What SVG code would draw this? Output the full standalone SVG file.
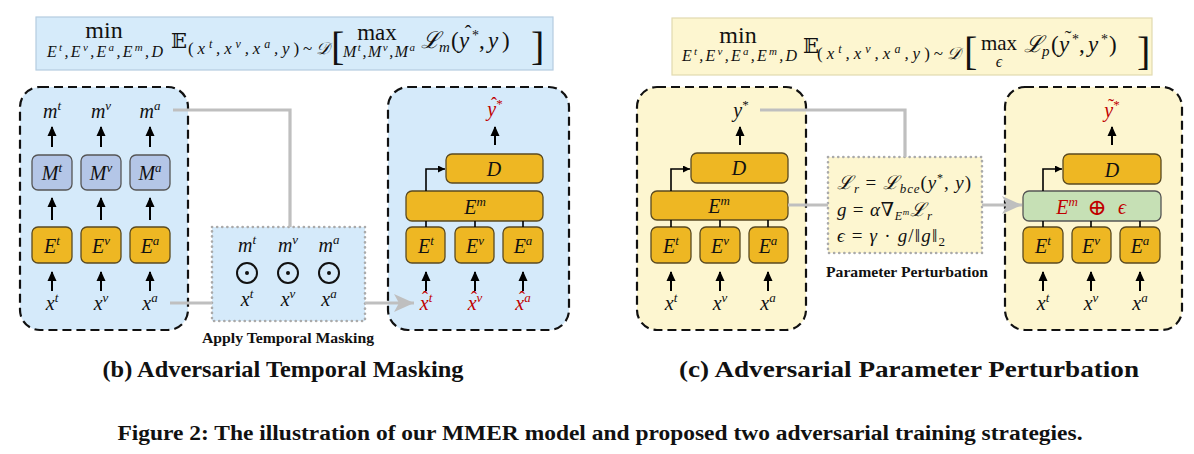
<svg xmlns="http://www.w3.org/2000/svg" width="1194" height="454" viewBox="0 0 1194 454">
<defs>
<marker id="ah" markerUnits="userSpaceOnUse" markerWidth="10" markerHeight="10" refX="9" refY="5" orient="auto"><path d="M0,0.5 L10,5 L0,9.5 z" fill="#000"/></marker>
<marker id="ahs" markerUnits="userSpaceOnUse" markerWidth="7" markerHeight="7" refX="7" refY="3.5" orient="auto"><path d="M0,0 L7,3.5 L0,7 z" fill="#000"/></marker>
<marker id="gh" markerUnits="userSpaceOnUse" markerWidth="20" markerHeight="18" refX="20" refY="9" orient="auto"><path d="M0,0 L20,9 L0,18 L5,9 z" fill="#bfbfbf"/></marker>
</defs>
<style>
.bg{fill:#ffffff}
.fb{fill:#d6ebfa;stroke:#b4cce0;stroke-width:1.2}
.fy{fill:#fdf6d0;stroke:#e2dab0;stroke-width:1.2}
.pb{fill:#d5eafa;stroke:#111;stroke-width:2.2;stroke-dasharray:9 5}
.py{fill:#fdf6d0;stroke:#111;stroke-width:2.2;stroke-dasharray:9 5}
.db{fill:#d5eafa;stroke:#aaaaaa;stroke-width:2.6;stroke-dasharray:0.1 5;stroke-linecap:round}
.dy{fill:#fdf6d0;stroke:#aaaaaa;stroke-width:2.6;stroke-dasharray:0.1 5;stroke-linecap:round}
.ob{fill:#eeb723;stroke:#5a4a20;stroke-width:1.3}
.mb{fill:#b4c6e7;stroke:#555;stroke-width:1.3}
.gb{fill:#c6e0b5;stroke:#555;stroke-width:1.3}
.ar{stroke:#000;stroke-width:2;fill:none;marker-end:url(#ah)}
.ln{stroke:#000;stroke-width:1.6;fill:none}
.el{stroke:#000;stroke-width:1.6;fill:none;marker-end:url(#ahs)}
.gr{stroke:#bfbfbf;stroke-width:3.2;fill:none}
.ga{stroke:#bfbfbf;stroke-width:3.2;fill:none;marker-end:url(#gh)}
text{font-family:"Times New Roman","Liberation Serif",Tinos,"DejaVu Serif",serif;fill:#111}
.mi{font-style:italic;font-size:20px}
.mu{font-size:20px}
.red{fill:#c00000}
.s{font-size:13px}
.hat{font-size:18px;font-style:normal}
.lab{font-weight:bold;font-size:14px}
.cap{font-weight:bold;font-size:23px}
.fig{font-weight:bold;font-size:20px}
.dm{font-family:"DejaVu Serif","DejaVu Sans",serif}
</style>
<rect class="bg" x="0" y="0" width="1194" height="454"/>

<!-- formula boxes -->
<g id="formula-b">
<rect class="fb" x="36" y="17" width="517" height="53"/>
<text class="mu" x="104" y="38" text-anchor="middle" style="font-size:24px">min</text>
<text class="mi" x="47" y="57" style="font-size:16px" textLength="116">E<tspan dy="-6" font-size="11">t</tspan><tspan dy="6">,E</tspan><tspan dy="-6" font-size="11">v</tspan><tspan dy="6">,E</tspan><tspan dy="-6" font-size="11">a</tspan><tspan dy="6">,E</tspan><tspan dy="-6" font-size="11">m</tspan><tspan dy="6">,D</tspan></text>
<text class="dm" x="171" y="48" style="font-size:21px">𝔼</text>
<text class="mi" x="188" y="54" style="font-size:17px" textLength="142"><tspan font-style="normal">(</tspan>x<tspan dy="-6" font-size="12">t</tspan><tspan dy="6">,x</tspan><tspan dy="-6" font-size="12">v</tspan><tspan dy="6">,x</tspan><tspan dy="-6" font-size="12">a</tspan><tspan dy="6">,y</tspan><tspan font-style="normal">)~</tspan>𝒟</text>
<text class="mu" x="331" y="60" style="font-size:40px">[</text>
<text class="mu" x="377" y="40" text-anchor="middle" style="font-size:23px">max</text>
<text class="mi" x="343" y="57" style="font-size:16px" textLength="72">M<tspan dy="-6" font-size="11">t</tspan><tspan dy="6">,M</tspan><tspan dy="-6" font-size="11">v</tspan><tspan dy="6">,M</tspan><tspan dy="-6" font-size="11">a</tspan></text>
<text class="mi" x="421" y="48" style="font-size:23px">ℒ</text>
<text class="mi" x="439" y="52" style="font-size:15px">m</text>
<text class="mu" x="451" y="48" style="font-size:23px">(</text>
<text class="mi" x="459" y="48" style="font-size:23px">y</text>
<text class="hat" x="468" y="40" text-anchor="middle" style="font-size:20px">ˆ</text>
<text class="mu" x="472" y="40" style="font-size:14px">*</text>
<text class="mu" x="479" y="48" style="font-size:23px">,</text>
<text class="mi" x="488" y="48" style="font-size:23px">y</text>
<text class="mu" x="502" y="48" style="font-size:23px">)</text>
<text class="mu" x="531" y="60" style="font-size:40px">]</text>
</g>

<g id="formula-c">
<rect class="fy" x="672" y="18" width="480" height="57"/>
<text class="mu" x="738" y="43" text-anchor="middle" style="font-size:24px">min</text>
<text class="mi" x="682" y="61" style="font-size:16px" textLength="115">E<tspan dy="-6" font-size="11">t</tspan><tspan dy="6">,E</tspan><tspan dy="-6" font-size="11">v</tspan><tspan dy="6">,E</tspan><tspan dy="-6" font-size="11">a</tspan><tspan dy="6">,E</tspan><tspan dy="-6" font-size="11">m</tspan><tspan dy="6">,D</tspan></text>
<text class="dm" x="803" y="53" style="font-size:21px">𝔼</text>
<text class="mi" x="817" y="59" style="font-size:17px" textLength="144"><tspan font-style="normal">(</tspan>x<tspan dy="-6" font-size="12">t</tspan><tspan dy="6">,x</tspan><tspan dy="-6" font-size="12">v</tspan><tspan dy="6">,x</tspan><tspan dy="-6" font-size="12">a</tspan><tspan dy="6">,y</tspan><tspan font-style="normal">)~</tspan>𝒟</text>
<text class="mu" x="964" y="65" style="font-size:40px">[</text>
<text class="mu" x="999" y="50" text-anchor="middle" style="font-size:21px">max</text>
<text class="mi" x="999" y="67" text-anchor="middle" style="font-size:16px">ϵ</text>
<text class="mi" x="1024" y="52" style="font-size:23px">ℒ</text>
<text class="mi" x="1042" y="56" style="font-size:15px">p</text>
<text class="mu" x="1051" y="52" style="font-size:23px">(</text>
<text class="mi" x="1059" y="52" style="font-size:23px">y</text>
<text class="hat" x="1068" y="45" text-anchor="middle" style="font-size:20px">˜</text>
<text class="mu" x="1072" y="44" style="font-size:14px">*</text>
<text class="mu" x="1079" y="52" style="font-size:23px">,</text>
<text class="mi" x="1088" y="52" style="font-size:23px">y</text>
<text class="mu" x="1101" y="44" style="font-size:14px">*</text>
<text class="mu" x="1109" y="52" style="font-size:23px">)</text>
<text class="mu" x="1137" y="65" style="font-size:40px">]</text>
</g>

<!-- panel b left -->
<g id="panel-b-mask-gen">
<rect class="pb" x="20" y="87" width="168" height="243" rx="20"/>
<text class="mi" x="52" y="118" text-anchor="middle">m<tspan dy="-8" class="s">t</tspan></text>
<text class="mi" x="101" y="118" text-anchor="middle">m<tspan dy="-8" class="s">v</tspan></text>
<text class="mi" x="150" y="118" text-anchor="middle">m<tspan dy="-8" class="s">a</tspan></text>
<g id="Mt"><rect class="mb" x="32" y="155" width="40" height="35" rx="6"/><text class="mi" x="52" y="180" text-anchor="middle">M<tspan dy="-8" class="s">t</tspan></text></g>
<g id="Mv"><rect class="mb" x="81" y="155" width="40" height="35" rx="6"/><text class="mi" x="101" y="180" text-anchor="middle">M<tspan dy="-8" class="s">v</tspan></text></g>
<g id="Ma"><rect class="mb" x="130" y="155" width="40" height="35" rx="6"/><text class="mi" x="150" y="180" text-anchor="middle">M<tspan dy="-8" class="s">a</tspan></text></g>
<g id="Et-b1"><rect class="ob" x="32" y="227" width="40" height="36" rx="6"/><text class="mi" x="52" y="253" text-anchor="middle">E<tspan dy="-8" class="s">t</tspan></text></g>
<g id="Ev-b1"><rect class="ob" x="81" y="227" width="40" height="36" rx="6"/><text class="mi" x="101" y="253" text-anchor="middle">E<tspan dy="-8" class="s">v</tspan></text></g>
<g id="Ea-b1"><rect class="ob" x="130" y="227" width="40" height="36" rx="6"/><text class="mi" x="150" y="253" text-anchor="middle">E<tspan dy="-8" class="s">a</tspan></text></g>
<text class="mi" x="52" y="310" text-anchor="middle">x<tspan dy="-8" class="s">t</tspan></text>
<text class="mi" x="101" y="310" text-anchor="middle">x<tspan dy="-8" class="s">v</tspan></text>
<text class="mi" x="150" y="310" text-anchor="middle">x<tspan dy="-8" class="s">a</tspan></text>
</g>

<!-- mask apply box -->
<g id="apply-masking">
<rect class="db" x="212" y="227" width="153" height="94"/>
<text class="mi" x="247" y="252" text-anchor="middle">m<tspan dy="-8" class="s">t</tspan></text>
<text class="mi" x="288" y="252" text-anchor="middle">m<tspan dy="-8" class="s">v</tspan></text>
<text class="mi" x="329" y="252" text-anchor="middle">m<tspan dy="-8" class="s">a</tspan></text>
<circle cx="247" cy="273" r="10" fill="none" stroke="#111" stroke-width="2"/><circle cx="247" cy="273" r="2" fill="#111"/>
<circle cx="288" cy="273" r="10" fill="none" stroke="#111" stroke-width="2"/><circle cx="288" cy="273" r="2" fill="#111"/>
<circle cx="329" cy="273" r="10" fill="none" stroke="#111" stroke-width="2"/><circle cx="329" cy="273" r="2" fill="#111"/>
<text class="mi" x="247" y="306" text-anchor="middle">x<tspan dy="-8" class="s">t</tspan></text>
<text class="mi" x="288" y="306" text-anchor="middle">x<tspan dy="-8" class="s">v</tspan></text>
<text class="mi" x="329" y="306" text-anchor="middle">x<tspan dy="-8" class="s">a</tspan></text>
<text class="lab" x="288" y="343" text-anchor="middle" textLength="172" lengthAdjust="spacingAndGlyphs">Apply Temporal Masking</text>
</g>

<!-- panel b right -->
<g id="panel-b-model">
<rect class="pb" x="388" y="87" width="181" height="243" rx="20"/>
<text class="mi red" x="495" y="116" text-anchor="middle">y<tspan dy="-8" font-size="13" font-style="normal">*</tspan></text>
<text class="hat red" x="494" y="110" text-anchor="middle">ˆ</text>
<g id="D-b"><rect class="ob" x="446" y="154" width="97" height="29" rx="6"/><text class="mi" x="494" y="176" text-anchor="middle">D</text></g>
<g id="Em-b"><rect class="ob" x="406" y="191" width="137" height="30" rx="6"/><text class="mi" x="475" y="214" text-anchor="middle">E<tspan dy="-8" class="s">m</tspan></text></g>
<g id="Et-b2"><rect class="ob" x="406" y="227" width="39" height="36" rx="6"/><text class="mi" x="426" y="253" text-anchor="middle">E<tspan dy="-8" class="s">t</tspan></text></g>
<g id="Ev-b2"><rect class="ob" x="455" y="227" width="39" height="36" rx="6"/><text class="mi" x="475" y="253" text-anchor="middle">E<tspan dy="-8" class="s">v</tspan></text></g>
<g id="Ea-b2"><rect class="ob" x="503" y="227" width="40" height="36" rx="6"/><text class="mi" x="523" y="253" text-anchor="middle">E<tspan dy="-8" class="s">a</tspan></text></g>
<text class="mi red" x="426" y="310" text-anchor="middle">x<tspan dy="-8" class="s">t</tspan></text>
<text class="mi red" x="475" y="310" text-anchor="middle">x<tspan dy="-8" class="s">v</tspan></text>
<text class="mi red" x="523" y="310" text-anchor="middle">x<tspan dy="-8" class="s">a</tspan></text>
<text class="hat red" x="425" y="304" text-anchor="middle">ˆ</text>
<text class="hat red" x="474" y="304" text-anchor="middle">ˆ</text>
<text class="hat red" x="522" y="304" text-anchor="middle">ˆ</text>
</g>

<!-- panel c left -->
<g id="panel-c-model">
<rect class="py" x="637" y="87" width="169" height="243" rx="20"/>
<text class="mi" x="741" y="117" text-anchor="middle">y<tspan dy="-8" font-size="13" font-style="normal">*</tspan></text>
<g id="D-c1"><rect class="ob" x="691" y="153" width="97" height="30" rx="6"/><text class="mi" x="739" y="175" text-anchor="middle">D</text></g>
<g id="Em-c1"><rect class="ob" x="651" y="191" width="137" height="29" rx="6"/><text class="mi" x="719" y="213" text-anchor="middle">E<tspan dy="-8" class="s">m</tspan></text></g>
<g id="Et-c1"><rect class="ob" x="651" y="227" width="40" height="36" rx="6"/><text class="mi" x="671" y="253" text-anchor="middle">E<tspan dy="-8" class="s">t</tspan></text></g>
<g id="Ev-c1"><rect class="ob" x="700" y="227" width="40" height="36" rx="6"/><text class="mi" x="720" y="253" text-anchor="middle">E<tspan dy="-8" class="s">v</tspan></text></g>
<g id="Ea-c1"><rect class="ob" x="749" y="227" width="39" height="36" rx="6"/><text class="mi" x="768" y="253" text-anchor="middle">E<tspan dy="-8" class="s">a</tspan></text></g>
<text class="mi" x="671" y="310" text-anchor="middle">x<tspan dy="-8" class="s">t</tspan></text>
<text class="mi" x="720" y="310" text-anchor="middle">x<tspan dy="-8" class="s">v</tspan></text>
<text class="mi" x="768" y="310" text-anchor="middle">x<tspan dy="-8" class="s">a</tspan></text>
</g>

<!-- perturbation box -->
<g id="param-perturbation">
<rect class="dy" x="828" y="157" width="154" height="96"/>
<text class="mi" x="837" y="189" style="font-size:19px" textLength="134">ℒ<tspan dy="4" font-size="13">r</tspan><tspan dy="-4" font-style="normal"> = </tspan>ℒ<tspan dy="4" font-size="13">bce</tspan><tspan dy="-4" font-style="normal">(</tspan>y<tspan dy="-7" font-size="12" font-style="normal">*</tspan><tspan dy="7" font-style="normal">, </tspan>y<tspan font-style="normal">)</tspan></text>
<text class="mi" x="837" y="216" style="font-size:19px" textLength="95">g<tspan font-style="normal"> = </tspan>α<tspan font-style="normal">∇</tspan><tspan dy="4" font-size="12">E</tspan><tspan dy="-5" font-size="9">m</tspan><tspan dy="1" font-size="19">ℒ</tspan><tspan dy="4" font-size="13">r</tspan></text>
<text class="mi" x="837" y="242" style="font-size:19px" textLength="108">ϵ<tspan font-style="normal"> = </tspan>γ<tspan font-style="normal"> · </tspan>g<tspan font-style="normal">/‖</tspan>g<tspan font-style="normal">‖</tspan><tspan dy="4" font-size="13" font-style="normal">2</tspan></text>
<text class="lab" x="907" y="277" text-anchor="middle" textLength="162" lengthAdjust="spacingAndGlyphs">Parameter Perturbation</text>
</g>

<!-- panel c right -->
<g id="panel-c-perturbed">
<rect class="py" x="1005" y="87" width="177" height="243" rx="20"/>
<text class="mi red" x="1112" y="117" text-anchor="middle">y<tspan dy="-8" font-size="13" font-style="normal">*</tspan></text>
<text class="hat red" x="1111" y="112" text-anchor="middle">˜</text>
<g id="D-c2"><rect class="ob" x="1063" y="154" width="98" height="30" rx="6"/><text class="mi" x="1112" y="177" text-anchor="middle">D</text></g>
<g id="Em-eps"><rect class="gb" x="1023" y="191" width="138" height="30" rx="6"/>
<text class="mi red" x="1067" y="214" text-anchor="middle">E<tspan dy="-8" class="s">m</tspan></text>
<text class="mu red" x="1097" y="215" text-anchor="middle" style="font-size:23px">⊕</text>
<text class="mi red" x="1122" y="214" text-anchor="middle">ϵ</text></g>
<g id="Et-c2"><rect class="ob" x="1023" y="227" width="40" height="36" rx="6"/><text class="mi" x="1043" y="253" text-anchor="middle">E<tspan dy="-8" class="s">t</tspan></text></g>
<g id="Ev-c2"><rect class="ob" x="1072" y="227" width="39" height="36" rx="6"/><text class="mi" x="1091" y="253" text-anchor="middle">E<tspan dy="-8" class="s">v</tspan></text></g>
<g id="Ea-c2"><rect class="ob" x="1120" y="227" width="40" height="36" rx="6"/><text class="mi" x="1140" y="253" text-anchor="middle">E<tspan dy="-8" class="s">a</tspan></text></g>
<text class="mi" x="1043" y="310" text-anchor="middle">x<tspan dy="-8" class="s">t</tspan></text>
<text class="mi" x="1091" y="310" text-anchor="middle">x<tspan dy="-8" class="s">v</tspan></text>
<text class="mi" x="1140" y="310" text-anchor="middle">x<tspan dy="-8" class="s">a</tspan></text>
</g>

<!-- connectors -->
<g id="connectors">
<path class="ar" d="M52,147 V127"/><path class="ar" d="M101,147 V127"/><path class="ar" d="M150,147 V127"/>
<path class="ar" d="M52,220 V198"/><path class="ar" d="M101,220 V198"/><path class="ar" d="M150,220 V198"/>
<path class="ar" d="M52,291 V272"/><path class="ar" d="M101,291 V272"/><path class="ar" d="M150,291 V272"/>
<path class="gr" d="M173,110 H290 V227"/>
<path class="gr" d="M170,303 H212"/>
<path class="ga" d="M365,303 H414"/>
<path class="ar" d="M495,145 V127"/>
<path class="el" d="M426,191 V169 H445"/>
<path class="ln" d="M426,221 V227 M475,221 V227 M523,221 V227"/>
<path class="ar" d="M426,291 V272"/><path class="ar" d="M475,291 V272"/><path class="ar" d="M523,291 V272"/>
<path class="ar" d="M740,145 V127"/>
<path class="el" d="M671,191 V169 H690"/>
<path class="ln" d="M671,220 V227 M720,220 V227 M768,220 V227"/>
<path class="ar" d="M671,291 V272"/><path class="ar" d="M720,291 V272"/><path class="ar" d="M768,291 V272"/>
<path class="gr" d="M760,110 H905 V157"/>
<path class="gr" d="M788,205 H828"/>
<path class="ga" d="M982,205 H1022"/>
<path class="ar" d="M1112,145 V127"/>
<path class="el" d="M1043,191 V169 H1062"/>
<path class="ln" d="M1043,221 V227 M1091,221 V227 M1140,221 V227"/>
<path class="ar" d="M1043,291 V272"/><path class="ar" d="M1091,291 V272"/><path class="ar" d="M1140,291 V272"/>
</g>

<!-- captions -->
<text class="cap" x="283" y="377" text-anchor="middle" textLength="361" lengthAdjust="spacingAndGlyphs">(b) Adversarial Temporal Masking</text>
<text class="cap" x="909" y="377" text-anchor="middle" textLength="460" lengthAdjust="spacingAndGlyphs">(c) Adversarial Parameter Perturbation</text>
<text class="fig" x="600" y="440" text-anchor="middle" textLength="965" lengthAdjust="spacingAndGlyphs">Figure 2: The illustration of our MMER model and proposed two adversarial training strategies.</text>
</svg>
